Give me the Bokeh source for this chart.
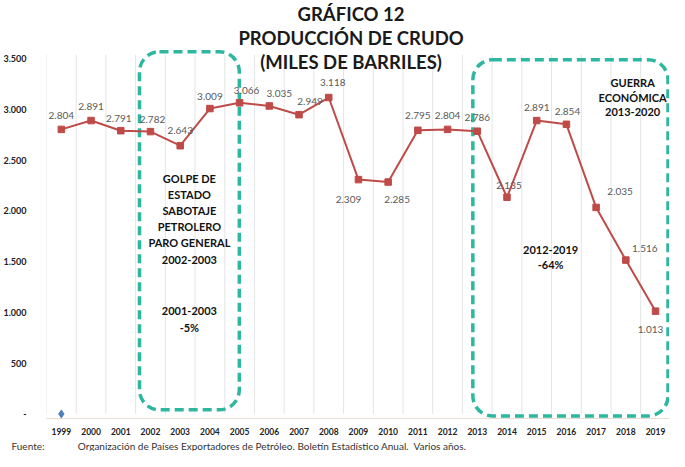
from bokeh.plotting import figure
from bokeh.models import Label, Title, FixedTicker
from bokeh.embed import file_html
from bokeh.resources import INLINE
from bokeh.core.properties import value

# ---------------- data ----------------
years = list(range(1999, 2020))
produccion = [2804, 2891, 2791, 2782, 2643, 3009, 3066, 3035, 2949, 3118,
              2309, 2285, 2795, 2804, 2786, 2135, 2891, 2854, 2035, 1516, 1013]
serie2_years = [1999]
serie2_values = [0]
y_ticks = [0, 500, 1000, 1500, 2000, 2500, 3000, 3500]
y_tick_labels = ["-", "500", "1.000", "1.500", "2.000", "2.500", "3.000", "3.500"]
x_tick_labels = [str(y) for y in years]

title_lines = ["GRÁFICO 12", "PRODUCCIÓN DE CRUDO", "(MILES DE BARRILES)"]
box_left = [2001.63, 2012.85]
box_right = [2004.99, 2019.42]
box_top = [3569, 3491]
box_bottom = [40, -20]

# label offsets (screen px, y down) for each data label
label_dx = [0, 0, -2, 2, 0, 0, 7, 10, 11, 4, -10, 9, 0, 0, 0, 2, 0, 1, 24, 19, -5]
label_dy = [-14, -14, -12, -12, -15, -12, -12, -12, -13, -15, 20, 17, -15, -14, -14, -12, -13, -13, -16, -12, 18]

fmt = lambda v: f"{v:,}".replace(",", ".")
etiquetas = [fmt(v) for v in produccion]

RED = "#BE4B48"
TEAL = "#2EB79F"
FONT = "Lato"

p = figure(width=669, height=451, output_backend="svg", toolbar_location=None,
           x_range=(1998.5, 2019.47), y_range=(-45, 4074),
           min_border_left=45, min_border_right=0, min_border_top=0,
           min_border_bottom=27)
p.outline_line_color = None
p.xgrid.grid_line_color = None
p.ygrid.grid_line_color = None

# vertical gridlines between categories
bounds = [y - 0.5 for y in years] + [years[-1] + 0.5]
p.segment(x0=bounds, y0=[0] * len(bounds), x1=bounds, y1=[3540] * len(bounds),
          line_color="#E4E4E4", line_width=1)

# dashed rounded boxes
p.quad(left=box_left, right=box_right, top=box_top, bottom=box_bottom,
       fill_color=None, line_color=TEAL, line_width=3.5, line_dash="9 5",
       border_radius=20)

# series
p.line(years, produccion, line_color=RED, line_width=2)
p.scatter(years, produccion, marker="square", size=6.5, fill_color=RED, line_color=RED)
p.scatter(serie2_years, serie2_values, marker="diamond", size=8,
          fill_color="#4F81BD", line_color="#4F81BD")

p.text(x=years, y=produccion, text=etiquetas, x_offset=label_dx, y_offset=label_dy,
       text_align="center", text_baseline="middle", text_font=value(FONT),
       text_font_size="10px", text_color="#595959")

# title
title_y = [3938, 3705, 3472]
for t, ty in zip(title_lines, title_y):
    p.add_layout(Label(x=2008.75, y=ty, text=t, text_align="center",
                       text_baseline="middle", text_font=FONT, text_font_style="bold",
                       text_font_size="18.5px", text_color="#1a1a1a"))

# annotations
notes = [
    (2003.31, 2384, "GOLPE DE\nESTADO\nSABOTAJE\nPETROLERO\nPARO GENERAL\n2002-2003", 1.24),
    (2003.31, 1082, "2001-2003\n-5%", 1.29),
    (2015.47, 1684, "2012-2019\n-64%", 1.14),
    (2018.23, 3326, "GUERRA\nECONÓMICA\n2013-2020", 1.1),
]
for x, y, t, lh in notes:
    p.add_layout(Label(x=x, y=y, text=t, text_align="center", text_baseline="top",
                       text_font=FONT, text_font_style="bold", text_font_size="11px",
                       text_color="#111111", text_line_height=lh))

# axes
p.xaxis.ticker = FixedTicker(ticks=years)
p.xaxis.major_label_overrides = {y: l for y, l in zip(years, x_tick_labels)}
p.xaxis.major_tick_line_color = None
p.xaxis.minor_tick_line_color = None
p.xaxis.axis_line_color = "#E9DCD3"
p.xaxis.major_label_standoff = 3
p.xaxis.major_label_text_font = FONT
p.xaxis.major_label_text_font_style = "bold"
p.xaxis.major_label_text_font_size = "8.5px"
p.xaxis.major_label_text_color = "#222222"

p.yaxis.ticker = FixedTicker(ticks=y_ticks)
p.yaxis.major_label_overrides = {t: l for t, l in zip(y_ticks, y_tick_labels)}
p.yaxis.major_tick_line_color = None
p.yaxis.minor_tick_line_color = None
p.yaxis.axis_line_color = None
p.yaxis.major_label_standoff = 14
p.yaxis.major_label_text_font = FONT
p.yaxis.major_label_text_font_style = "bold"
p.yaxis.major_label_text_font_size = "9px"
p.yaxis.major_label_text_color = "#222222"

footer = ("Fuente:" + "\u00a0" * 13 +
          "Organización de Países Exportadores de Petróleo. Boletín Estadístico Anual.\u00a0\u00a0Varios años.")
p.add_layout(Title(text=footer, align="left", offset=-35, standoff=0,
                   text_font=FONT, text_font_style="normal", text_font_size="10px",
                   text_color="#333333"), "below")

open("out.html", "w").write(file_html(p, INLINE))
